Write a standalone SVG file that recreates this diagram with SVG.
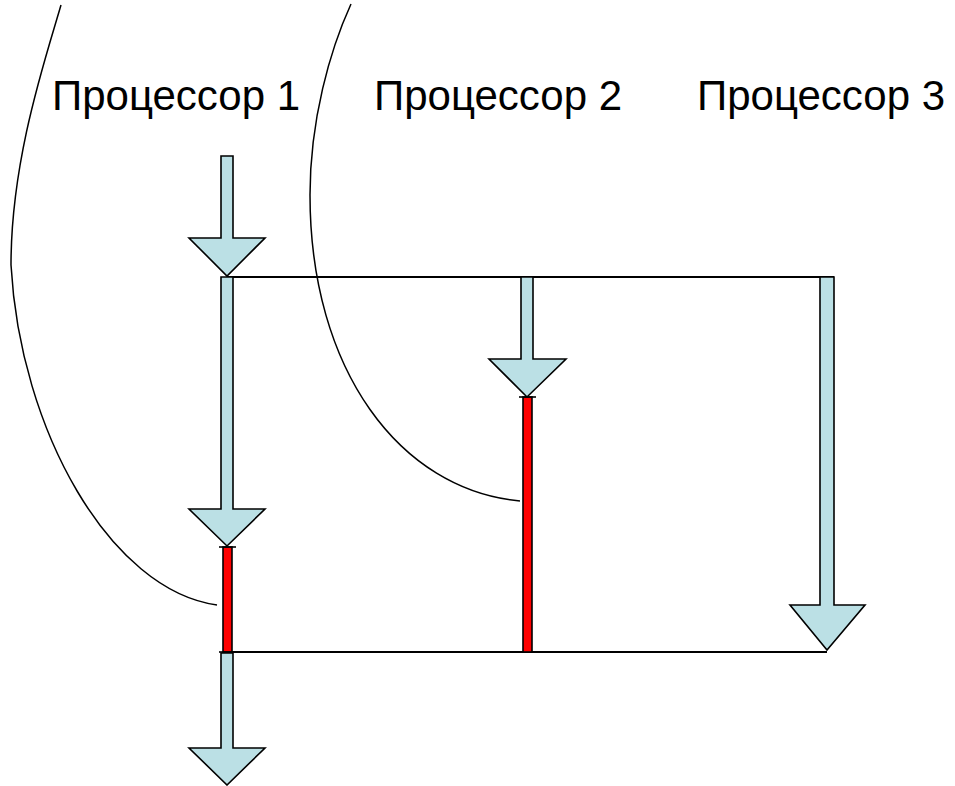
<svg xmlns="http://www.w3.org/2000/svg" width="955" height="786" viewBox="0 0 955 786">
<style>
.lbl{font-family:"Liberation Sans",Arial,sans-serif;font-size:42px;fill:#000}
.arr{fill:#BBE0E5;stroke:#000;stroke-width:1.6;stroke-linejoin:miter}
.bar{fill:#FF0000;stroke:#000;stroke-width:1.6}
.cap{stroke:#000;stroke-width:1.6}
.ln{fill:none;stroke:#000;stroke-width:2}
.crv{fill:none;stroke:#000;stroke-width:1.5}
</style>
<rect width="955" height="786" fill="#fff"/>
<g id="connectors">
<path class="crv" d="M61,5 C45,60 11,160 11,265 C20,430 110,590 217,605"/>
<path class="crv" d="M351,4 C330,50 310,120 310,195 C310,370 400,490 520,501"/>
<line class="ln" x1="227" y1="277" x2="834" y2="277"/>
<line class="ln" x1="227" y1="652" x2="827" y2="652"/>
</g>
<g id="label-p1"><text class="lbl" x="52" y="110">Процессор 1</text></g>
<g id="label-p2"><text class="lbl" x="374" y="110">Процессор 2</text></g>
<g id="label-p3"><text class="lbl" x="697" y="110">Процессор 3</text></g>
<g id="arrow-p1-in"><polygon class="arr" points="221,156 233,156 233,238 265,238 227,276 189,238 221,238"/></g>
<g id="arrow-p1-work"><polygon class="arr" points="221,277 233,277 233,509 265,509 227,546 189,509 221,509"/></g>
<g id="bar-p1"><rect class="bar" x="223" y="547" width="9" height="105"/><line class="cap" x1="219" y1="547" x2="236" y2="547"/><line class="cap" x1="219" y1="652" x2="236" y2="652"/></g>
<g id="arrow-p1-out"><polygon class="arr" points="221,653 233,653 233,748 265,748 227,785 189,748 221,748"/></g>
<g id="arrow-p2"><polygon class="arr" points="521,277 533,277 533,359 566,359 527,397 489,359 521,359"/></g>
<g id="bar-p2"><rect class="bar" x="523" y="397" width="9" height="255"/><line class="cap" x1="519" y1="397" x2="536" y2="397"/></g>
<g id="arrow-p3"><polygon class="arr" points="820,277 834,277 834,605 865,605 827,650 790,605 820,605"/></g>
</svg>
